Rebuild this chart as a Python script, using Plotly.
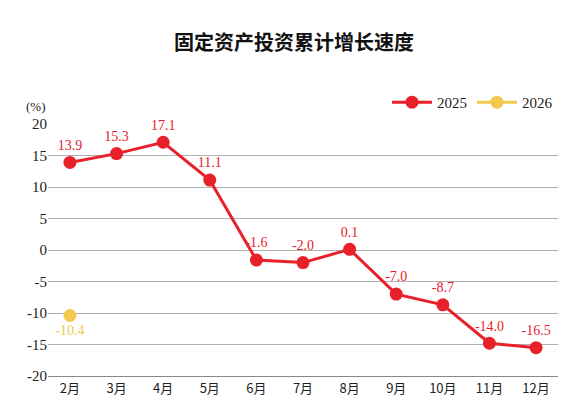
import plotly.graph_objects as go

# data
months = ['2月', '3月', '4月', '5月', '6月', '7月', '8月', '9月', '10月', '11月', '12月']
growth_2025 = [13.9, 15.3, 17.1, 11.1, -1.6, -2.0, 0.1, -7.0, -8.7, -14.8, -15.5]
labels_2025 = ['13.9', '15.3', '17.1', '11.1', '-1.6', '-2.0', '0.1', '-7.0', '-8.7', '-14.0', '-16.5']
months_2026 = ['2月']
growth_2026 = [-10.4]
labels_2026 = ['-10.4']
y_ticks = [20, 15, 10, 5, 0, -5, -10, -15, -20]

RED = '#e8202a'
YELLOW = '#f2c94c'
serif = 'Liberation Serif, Times New Roman, serif'

fig = go.Figure()
fig.add_trace(go.Scatter(
    x=months, y=growth_2025, name='2025', mode='lines+markers+text',
    line=dict(color=RED, width=3), marker=dict(color=RED, size=13),
    text=labels_2025, textposition='top center', cliponaxis=False,
    textfont=dict(color=RED, size=14, family=serif)))
fig.add_trace(go.Scatter(
    x=months_2026, y=growth_2026, name='2026', mode='lines+markers+text',
    line=dict(color=YELLOW, width=3), marker=dict(color=YELLOW, size=13),
    text=labels_2026, textposition='bottom center', cliponaxis=False,
    textfont=dict(color=YELLOW, size=14, family=serif)))

fig.update_layout(
    width=572, height=406, plot_bgcolor='white', paper_bgcolor='white',
    margin=dict(l=40, r=22, t=116, b=38),
    title=dict(text='<b>固定资产投资累计增长速度</b>', x=0.5, y=0.93, xanchor='center',
               font=dict(family='Noto Sans CJK SC', size=20, color='#111')),
    legend=dict(orientation='h', x=1, xanchor='right', y=1.02, yanchor='bottom',
                font=dict(family=serif, size=15, color='#222'), itemwidth=40),
    font=dict(family=serif, size=14, color='#222'),
    annotations=[dict(text='(%)', x=0, y=1.03, xref='paper', yref='paper',
                      xanchor='right', yanchor='bottom', showarrow=False,
                      font=dict(family=serif, size=13, color='#222'))],
)
fig.update_xaxes(showgrid=False, showline=True, linecolor='#888', ticks='',
                 tickfont=dict(family='Noto Sans CJK SC', size=13), range=[-0.47, 10.47])
fig.update_yaxes(range=[-20, 20], tickvals=y_ticks, ticktext=[str(v) for v in y_ticks],
                 gridcolor='#b0b0b0', gridwidth=1.2, zeroline=False,
                 tickfont=dict(family=serif, size=15))

fig.write_html('out.html')
